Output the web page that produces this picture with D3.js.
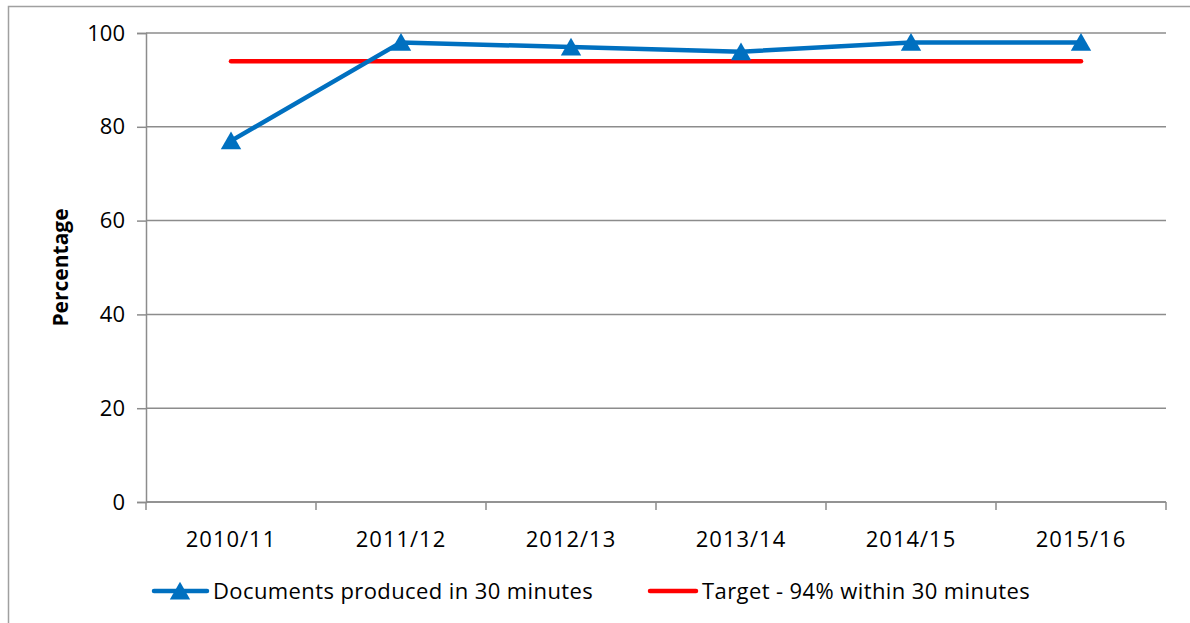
<!DOCTYPE html>
<html>
<head>
<meta charset="utf-8">
<script src="https://cdn.jsdelivr.net/npm/d3@7"></script>
<style>
  body { margin: 0; background: #fff; }
  text { font-family: "Open Sans", Lato, sans-serif; fill: #000; }
</style>
</head>
<body>
<div id="chart"></div>
<script>
// Chart values
var years = ["2010/11", "2011/12", "2012/13", "2013/14", "2014/15", "2015/16"];
var documents = [77, 98, 97, 96, 98, 98];
var target = [94, 94, 94, 94, 94, 94];
var yTicks = [0, 20, 40, 60, 80, 100];
var seriesNames = ["Documents produced in 30 minutes", "Target - 94% within 30 minutes"];

var W = 1190, H = 623;
var margin = {top: 33, right: 24, bottom: 121, left: 146},
    width = W - margin.left - margin.right,
    height = H - margin.top - margin.bottom;

var svg = d3.select("#chart").append("svg")
    .attr("width", W)
    .attr("height", H);

// outer chart border
svg.append("rect")
    .attr("x", 8.5).attr("y", 6.5)
    .attr("width", W + 10).attr("height", H + 10)
    .attr("fill", "none")
    .attr("stroke", "#a0a0a0")
    .attr("stroke-width", 1.5);

var g = svg.append("g")
    .attr("transform", "translate(" + margin.left + "," + margin.top + ")");

var x = d3.scaleBand().domain(years).range([0, width]);
var y = d3.scaleLinear().domain([0, 100]).range([height, 0]);

// gridlines
g.selectAll(".grid")
    .data(yTicks)
    .enter().append("line")
    .attr("x1", 0).attr("x2", width)
    .attr("y1", function(d) { return y(d); })
    .attr("y2", function(d) { return y(d); })
    .attr("stroke", "#8c8c8c")
    .attr("stroke-width", 1.5);

// y axis
var yAxis = g.append("g")
    .call(d3.axisLeft(y).tickValues(yTicks).tickSize(9).tickPadding(12));
yAxis.select(".domain").attr("stroke", "#8c8c8c").attr("stroke-width", 1.5);
yAxis.selectAll(".tick line").attr("stroke", "#8c8c8c").attr("stroke-width", 1.5);
yAxis.selectAll("text").style("font-size", "22px").attr("fill", "#000")
    .style("font-family", "'Open Sans', sans-serif");

// x axis
var xTickPos = years.map(function(d) { return x(d); }).concat([width]);
var xAxis = g.append("g")
    .attr("transform", "translate(0," + height + ")");
xAxis.append("line")
    .attr("x1", 0).attr("x2", width)
    .attr("stroke", "#8c8c8c").attr("stroke-width", 1.5);
xAxis.selectAll(".xt")
    .data(xTickPos)
    .enter().append("line")
    .attr("x1", function(d) { return d; })
    .attr("x2", function(d) { return d; })
    .attr("y1", 0).attr("y2", 8)
    .attr("stroke", "#8c8c8c").attr("stroke-width", 1.5);
xAxis.selectAll(".xl")
    .data(years)
    .enter().append("text")
    .attr("x", function(d) { return x(d) + x.bandwidth() / 2; })
    .attr("y", 45)
    .attr("text-anchor", "middle")
    .style("font-size", "22px")
    .style("letter-spacing", "1px")
    .text(function(d) { return d; });

// y axis title
svg.append("text")
    .attr("transform", "translate(68," + (margin.top + height / 2) + ") rotate(-90)")
    .attr("text-anchor", "middle")
    .style("font-size", "21px")
    .style("font-weight", "bold")
    .text("Percentage");

var line = d3.line()
    .x(function(d, i) { return x(years[i]) + x.bandwidth() / 2; })
    .y(function(d) { return y(d); });

// target line
g.append("path")
    .datum(target)
    .attr("d", line)
    .attr("fill", "none")
    .attr("stroke", "#ff0000")
    .attr("stroke-width", 4.5)
    .attr("stroke-linecap", "round");

// documents line
g.append("path")
    .datum(documents)
    .attr("d", line)
    .attr("fill", "none")
    .attr("stroke", "#0070c0")
    .attr("stroke-width", 4.5)
    .attr("stroke-linejoin", "round");

var tri = d3.symbol().type(d3.symbolTriangle).size(180);
g.selectAll(".marker")
    .data(documents)
    .enter().append("path")
    .attr("d", tri)
    .attr("transform", function(d, i) {
        return "translate(" + (x(years[i]) + x.bandwidth() / 2) + "," + (y(d) + 2.5) + ")";
    })
    .attr("fill", "#0070c0");

// legend
var legY = 591;
var leg1 = svg.append("g");
leg1.append("line")
    .attr("x1", 154).attr("x2", 207).attr("y1", legY).attr("y2", legY)
    .attr("stroke", "#0070c0").attr("stroke-width", 4.5).attr("stroke-linecap", "round");
leg1.append("path")
    .attr("d", tri)
    .attr("transform", "translate(180," + (legY + 2.5) + ")")
    .attr("fill", "#0070c0");
leg1.append("text")
    .attr("x", 213).attr("y", legY + 8)
    .style("font-size", "22px")
    .style("letter-spacing", "0.4px")
    .text(seriesNames[0]);

var leg2 = svg.append("g");
leg2.append("line")
    .attr("x1", 650).attr("x2", 696).attr("y1", legY).attr("y2", legY)
    .attr("stroke", "#ff0000").attr("stroke-width", 4.5).attr("stroke-linecap", "round");
leg2.append("text")
    .attr("x", 702).attr("y", legY + 8)
    .style("font-size", "22px")
    .style("letter-spacing", "0.4px")
    .text(seriesNames[1]);
</script>
</body>
</html>
